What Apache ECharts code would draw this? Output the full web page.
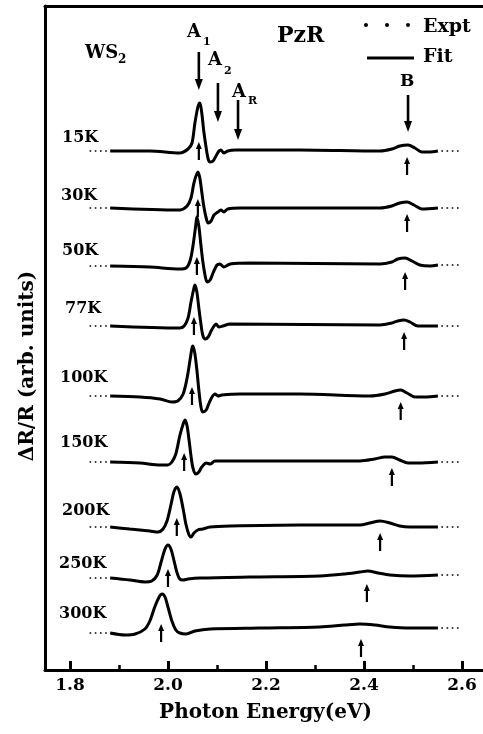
<!DOCTYPE html>
<html>
<head>
<meta charset="utf-8">
<script src="https://cdn.jsdelivr.net/npm/echarts@6/dist/echarts.min.js"></script>
<style>
  html, body { margin: 0; padding: 0; background: #fff; }
  #chart { width: 483px; height: 734px; }
</style>
</head>
<body>
<div id="chart"></div>
<script>
  // temperatures, top to bottom
  var temps = ["15K", "30K", "50K", "77K", "100K", "150K", "200K", "250K", "300K"];
  // vertical shift of each trace (arb. units)
  var offsets = [51.9, 46.2, 40.4, 34.4, 27.4, 20.8, 14.3, 9.2, 3.7];
  // transition energies marked by the small arrows (eV)
  var a1Energy = [2.063, 2.061, 2.059, 2.053, 2.049, 2.033, 2.018, 2.0, 1.986];
  var bEnergy = [2.488, 2.488, 2.484, 2.482, 2.475, 2.457, 2.433, 2.406, 2.394];
  // labelled arrows on top: A1, A2, AR, B  [energy, tail, head]
  var topArrows = [[2.063, 61.8, 58.0], [2.102, 58.7, 54.8], [2.143, 57.0, 53.0], [2.49, 57.5, 53.8]];
  // experimental data visible outside the fit range (eV)
  var exptLeft = [1.84, 1.876];
  var exptRight = [2.558, 2.6];
  var majorTicks = [1.8, 2.0, 2.2, 2.4, 2.6];
  var minorTicks = [1.9, 2.1, 2.3, 2.5];

  // fitted PzR line shapes [energy, dR/R]
  var fit15 = [[1.882,0],[1.963,0],[2.024,-0.2],[2.041,0.2],[2.049,0.8],[2.055,2.8],[2.061,4.4],[2.065,4.8],[2.069,3.8],[2.073,2.0],[2.078,0.3],[2.082,-0.8],[2.086,-1.1],[2.092,-1.0],[2.098,-0.5],[2.104,0.0],[2.108,0.1],[2.114,-0.2],[2.122,0.0],[2.137,0.1],[2.269,0.1],[2.433,0.0],[2.457,0.2],[2.473,0.5],[2.49,0.6],[2.504,0.3],[2.518,-0.1],[2.535,-0.1],[2.551,0]];
  var fit30 = [[1.882,0],[2.024,-0.2],[2.039,0.2],[2.047,1.0],[2.053,2.5],[2.061,3.6],[2.065,3.0],[2.069,1.6],[2.073,0.2],[2.078,-1.0],[2.082,-1.5],[2.088,-1.3],[2.094,-0.7],[2.102,-0.4],[2.108,-0.2],[2.114,-0.4],[2.122,-0.1],[2.147,0],[2.433,0],[2.457,0.2],[2.473,0.5],[2.488,0.6],[2.502,0.3],[2.518,-0.1],[2.551,0]];
  var fit50 = [[1.882,0],[1.963,-0.1],[2.024,-0.3],[2.037,-0.2],[2.045,0.5],[2.051,2.0],[2.057,4.2],[2.059,4.9],[2.063,4.0],[2.067,2.2],[2.071,0.5],[2.076,-1.0],[2.08,-1.6],[2.086,-1.4],[2.092,-0.7],[2.1,0.1],[2.106,0.2],[2.114,-0.1],[2.127,0.2],[2.167,0.3],[2.433,0.2],[2.457,0.4],[2.469,0.7],[2.484,0.8],[2.498,0.5],[2.514,0.1],[2.535,0],[2.551,0.1]];
  var fit77 = [[1.882,0],[2.024,-0.2],[2.033,0],[2.041,0.8],[2.047,2.4],[2.053,3.8],[2.055,4.1],[2.059,3.4],[2.063,1.8],[2.067,0.3],[2.071,-0.9],[2.076,-1.3],[2.082,-1.1],[2.088,-0.5],[2.094,0],[2.098,0.2],[2.104,-0.1],[2.112,0],[2.127,0.2],[2.433,0.1],[2.457,0.3],[2.469,0.5],[2.482,0.6],[2.494,0.4],[2.51,0],[2.551,0]];
  var fit100 = [[1.882,0],[1.943,-0.1],[1.984,-0.3],[2.008,-0.6],[2.02,-0.5],[2.031,0.2],[2.039,1.8],[2.045,3.6],[2.049,4.8],[2.051,5.0],[2.055,4.2],[2.059,2.6],[2.063,0.6],[2.067,-1.0],[2.071,-1.6],[2.078,-1.4],[2.084,-0.7],[2.09,-0.1],[2.096,0.2],[2.102,0],[2.11,0.1],[2.147,0.2],[2.269,0.2],[2.412,0],[2.443,0.2],[2.463,0.5],[2.475,0.6],[2.488,0.3],[2.504,-0.1],[2.524,-0.1],[2.551,0]];
  var fit150 = [[1.882,0],[1.943,-0.1],[1.984,-0.3],[2.0,-0.3],[2.008,0],[2.016,0.8],[2.024,2.6],[2.031,3.8],[2.035,4.2],[2.039,3.6],[2.043,2.2],[2.047,0.6],[2.051,-0.6],[2.057,-1.2],[2.063,-1.0],[2.069,-0.5],[2.078,-0.1],[2.086,-0.2],[2.096,0.1],[2.127,0.1],[2.392,0.1],[2.422,0.3],[2.443,0.5],[2.457,0.5],[2.473,0.2],[2.49,-0.1],[2.51,-0.1],[2.551,0]];
  var fit200 = [[1.882,0],[1.922,-0.2],[1.963,-0.4],[1.98,-0.5],[1.99,-0.2],[1.998,0.6],[2.006,2.2],[2.012,3.5],[2.018,4.0],[2.024,3.4],[2.031,1.8],[2.037,0.2],[2.043,-0.8],[2.047,-1.0],[2.053,-0.6],[2.061,-0.3],[2.071,-0.2],[2.086,0],[2.127,0.1],[2.269,0.2],[2.392,0.2],[2.412,0.4],[2.433,0.6],[2.453,0.4],[2.473,0.1],[2.494,0],[2.551,0]];
  var fit250 = [[1.882,0],[1.922,-0.2],[1.953,-0.4],[1.967,-0.3],[1.978,0.3],[1.986,1.6],[1.994,2.9],[2.0,3.3],[2.006,2.9],[2.012,1.8],[2.018,0.6],[2.024,-0.1],[2.031,-0.2],[2.041,-0.1],[2.065,0],[2.167,0.1],[2.31,0.2],[2.361,0.4],[2.392,0.6],[2.408,0.7],[2.429,0.5],[2.453,0.3],[2.494,0.2],[2.551,0.3]];
  var fit300 = [[1.882,0],[1.912,-0.2],[1.933,-0.1],[1.953,0.4],[1.963,1.2],[1.973,2.6],[1.982,3.6],[1.988,3.9],[1.994,3.6],[2.0,2.6],[2.008,1.2],[2.016,0.3],[2.024,0],[2.037,-0.1],[2.055,0.2],[2.086,0.4],[2.188,0.5],[2.31,0.6],[2.361,0.8],[2.392,0.9],[2.422,0.8],[2.453,0.6],[2.494,0.5],[2.551,0.5]];
  var fits = [fit15, fit30, fit50, fit77, fit100, fit150, fit200, fit250, fit300];

  var FONT = '"DejaVu Serif", serif';
  var chart = echarts.init(document.getElementById("chart"));

  function arrowSeries(name, data, headLen, headW, lw) {
    return {
      type: "custom",
      name: name,
      data: data,
      silent: true,
      clip: false,
      z: 5,
      encode: { x: 0, y: [1, 2] },
      renderItem: function (params, api) {
        var tail = api.coord([api.value(0), api.value(1)]);
        var head = api.coord([api.value(0), api.value(2)]);
        var d = head[1] > tail[1] ? 1 : -1;
        return {
          type: "group",
          children: [
            {
              type: "line",
              shape: { x1: tail[0], y1: tail[1], x2: head[0], y2: head[1] - d * headLen * 0.6 },
              style: { stroke: "#000", lineWidth: lw },
            },
            {
              type: "polygon",
              shape: {
                points: [
                  [head[0], head[1]],
                  [head[0] - headW, head[1] - d * headLen],
                  [head[0] + headW, head[1] - d * headLen],
                ],
              },
              style: { fill: "#000" },
            },
          ],
        };
      },
    };
  }

  var series = [];
  var smallArrows = [];
  temps.forEach(function (t, i) {
    var off = offsets[i];
    var pts = fits[i];
    series.push({
      type: "line",
      name: "Fit " + t,
      data: pts.map(function (p) { return [p[0], off + p[1]]; }),
      showSymbol: false,
      symbol: "none",
      smooth: 0.3,
      lineStyle: { color: "#000", width: 3 },
      z: 3,
    });
    var y0 = off + pts[0][1];
    var y1 = off + pts[pts.length - 1][1];
    series.push({
      type: "line",
      name: "Expt " + t,
      data: [[exptLeft[0], y0], [exptLeft[1], y0], "-", [exptRight[0], y1], [exptRight[1], y1]],
      showSymbol: false,
      symbol: "none",
      lineStyle: { color: "#000", width: 1.6, type: [1.6, 3.6] },
    });
    smallArrows.push([a1Energy[i], off - 0.9, off + 0.9]);
    smallArrows.push([bEnergy[i], off - 2.4, off - 0.6]);
  });
  series.push(arrowSeries("small arrows", smallArrows, 7, 3, 2.2));
  series.push(arrowSeries("top arrows", topArrows, 11, 4, 2.6));

  function txt(text, x, y, size, extra) {
    var st = { text: text, fill: "#000", font: "bold " + size + "px " + FONT, verticalAlign: "middle", align: "left" };
    for (var k in extra || {}) st[k] = extra[k];
    return { type: "text", x: x, y: y, silent: true, z: 10, style: st };
  }

  var labelPos = [[62, 138], [61, 196], [62, 251], [65, 309], [60, 378], [60, 443], [62, 511], [59, 564], [59, 614]];
  var graphics = temps.map(function (t, i) { return txt(t, labelPos[i][0], labelPos[i][1], 16); });
  graphics.push(
    txt("WS", 85, 53, 18),
    txt("2", 118, 60, 12),
    txt("A", 187, 32, 18),
    txt("1", 203, 42, 11),
    txt("A", 208, 60, 18),
    txt("2", 224, 71, 11),
    txt("A", 232, 92, 18),
    txt("R", 248, 101, 11),
    txt("PzR", 277, 36, 22),
    txt("B", 400, 82, 17),
    txt("Expt", 423, 27, 19),
    txt("Fit", 423, 57, 19),
    { type: "circle", shape: { cx: 366, cy: 25, r: 2 }, style: { fill: "#000" }, silent: true },
    { type: "circle", shape: { cx: 387, cy: 25, r: 2 }, style: { fill: "#000" }, silent: true },
    { type: "circle", shape: { cx: 408, cy: 25, r: 2 }, style: { fill: "#000" }, silent: true },
    { type: "line", shape: { x1: 367, y1: 58, x2: 414, y2: 58 }, style: { stroke: "#000", lineWidth: 3 }, silent: true },
    txt("\u0394R/R (arb. units)", 28, 366, 20, { align: "center" })
  );
  graphics[graphics.length - 1].rotation = Math.PI / 2;

  var xMin = 1.749;
  var xMax = 2.643;
  var option = {
    animation: false,
    backgroundColor: "#fff",
    grid: { left: 45, top: 6, right: 0, bottom: 64 },
    xAxis: [
      {
        type: "value",
        min: xMin,
        max: xMax,
        position: "bottom",
        name: "Photon Energy(eV)",
        nameLocation: "middle",
        nameGap: 33,
        nameTextStyle: { fontFamily: FONT, fontWeight: "bold", fontSize: 20, color: "#000", padding: [0, 0, 0, 3] },
        axisLine: { show: true, onZero: false, lineStyle: { color: "#000", width: 3 } },
        axisTick: { inside: true, length: 9, customValues: majorTicks, lineStyle: { color: "#000", width: 3 } },
        axisLabel: {
          customValues: majorTicks,
          formatter: function (v) { return v.toFixed(1); },
          margin: 7,
          fontFamily: FONT,
          fontWeight: "bold",
          fontSize: 17,
          color: "#000",
        },
        splitLine: { show: false },
      },
      {
        type: "value",
        min: xMin,
        max: xMax,
        position: "bottom",
        axisLine: { show: false, onZero: false },
        axisTick: { inside: true, length: 5, customValues: minorTicks, lineStyle: { color: "#000", width: 2.5 } },
        axisLabel: { show: false },
        splitLine: { show: false },
      },
      {
        type: "value",
        min: xMin,
        max: xMax,
        position: "top",
        axisLine: { show: true, onZero: false, lineStyle: { color: "#000", width: 3 } },
        axisTick: { show: false },
        axisLabel: { show: false },
        splitLine: { show: false },
      },
    ],
    yAxis: {
      type: "value",
      min: 0,
      max: 66.4,
      axisLine: { show: true, onZero: false, lineStyle: { color: "#000", width: 3 } },
      axisTick: { show: false },
      axisLabel: { show: false },
      splitLine: { show: false },
    },
    graphic: graphics,
    series: series,
  };
  chart.setOption(option);
</script>
</body>
</html>
